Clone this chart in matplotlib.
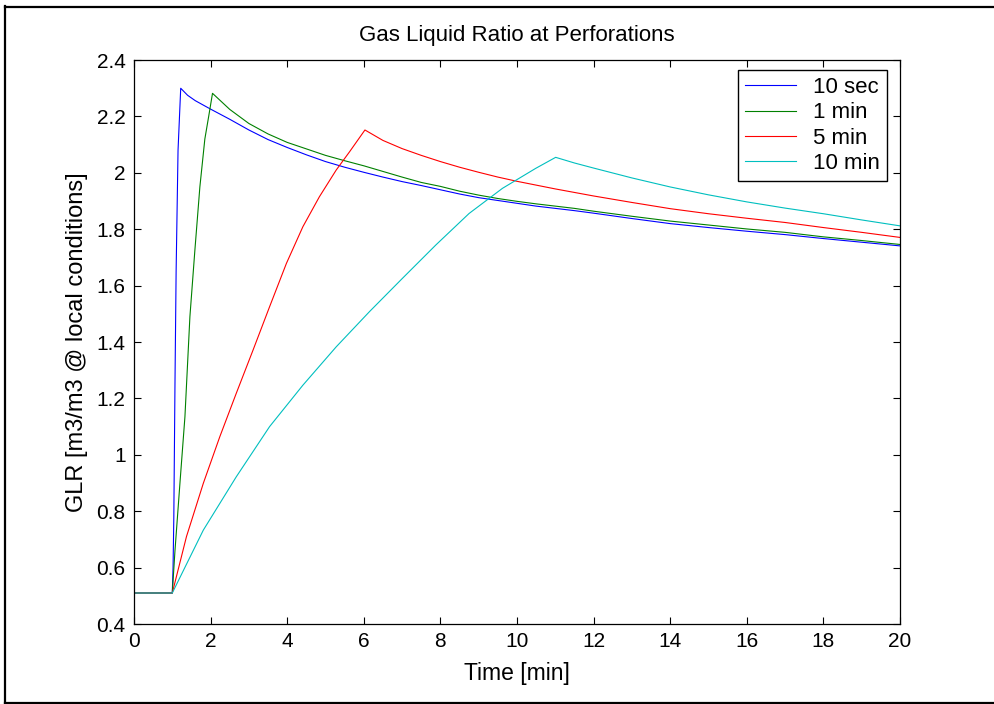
import matplotlib.pyplot as plt
from matplotlib.lines import Line2D

plt.rcParams['font.family'] = ['Liberation Sans', 'DejaVu Sans']

# GLR at the perforations for four ramp durations (time in minutes)
t_10s = [0, 1.0, 1.02, 1.04, 1.07, 1.10, 1.15, 1.22, 1.4, 1.6, 2.0, 2.5, 3.0, 3.5, 4.0, 4.5,
         5.0, 5.5, 6.0, 6.5, 7.0, 7.5, 8.0, 8.5, 9.0, 9.5, 10.0, 10.5, 11.0, 11.5, 12, 13, 14,
         15, 16, 17, 18, 19, 20]
glr_10s = [0.51, 0.51, 0.60, 0.78, 1.25, 1.65, 2.08, 2.30, 2.275, 2.256, 2.226, 2.19, 2.152,
           2.118, 2.09, 2.064, 2.04, 2.02, 2.002, 1.985, 1.969, 1.955, 1.940, 1.925, 1.912,
           1.902, 1.892, 1.882, 1.874, 1.866, 1.857, 1.838, 1.820, 1.806, 1.793, 1.781, 1.767,
           1.754, 1.741]

t_1m = [0, 1.0, 1.07, 1.20, 1.33, 1.46, 1.59, 1.72, 1.85, 1.95, 2.05, 2.5, 3.0, 3.5, 4.0, 4.5,
        5.0, 5.5, 6.0, 6.5, 7.0, 7.5, 8.0, 8.5, 9.0, 9.5, 10.0, 10.5, 11.0, 11.5, 12, 13, 14,
        15, 16, 17, 18, 19, 20]
glr_1m = [0.51, 0.51, 0.66, 0.90, 1.135, 1.49, 1.726, 1.95, 2.12, 2.20, 2.282, 2.225, 2.175,
          2.138, 2.108, 2.085, 2.062, 2.043, 2.025, 2.005, 1.985, 1.966, 1.952, 1.935, 1.921,
          1.909, 1.899, 1.890, 1.882, 1.874, 1.864, 1.846, 1.829, 1.815, 1.801, 1.789, 1.773,
          1.760, 1.746]

t_5m = [0, 1.0, 1.37, 1.81, 2.24, 2.67, 3.11, 3.54, 3.98, 4.41, 4.84, 5.28, 5.63, 6.03, 6.5,
        7.0, 7.5, 8.0, 8.5, 9.0, 9.5, 10.0, 11, 12, 13, 14, 15, 16, 17, 18, 19, 20]
glr_5m = [0.51, 0.51, 0.71, 0.899, 1.064, 1.218, 1.372, 1.525, 1.679, 1.809, 1.915, 2.01, 2.075,
          2.152, 2.115, 2.086, 2.062, 2.040, 2.020, 2.002, 1.985, 1.970, 1.943, 1.918, 1.895,
          1.873, 1.855, 1.839, 1.824, 1.806, 1.789, 1.771]

t_10m = [0, 1.0, 1.81, 2.67, 3.54, 4.41, 5.28, 6.15, 7.01, 7.88, 8.75, 9.62, 10.49, 11.01,
         11.5, 12, 13, 14, 15, 16, 17, 18, 19, 20]
glr_10m = [0.51, 0.51, 0.733, 0.922, 1.100, 1.247, 1.383, 1.508, 1.626, 1.744, 1.856, 1.945,
           2.016, 2.055, 2.035, 2.017, 1.982, 1.950, 1.922, 1.897, 1.875, 1.855, 1.833, 1.812]

labels = ['10 sec', '1 min', '5 min', '10 min']
colors = ['#0000ff', '#008000', '#ff0000', '#00bfbf']

fig = plt.figure(figsize=(9.94, 7.04), dpi=100)
ax = fig.add_axes([0.1348, 0.1136, 0.7706, 0.8011])

series = [(t_10s, glr_10s), (t_1m, glr_1m), (t_5m, glr_5m), (t_10m, glr_10m)]
for (t, g), lab, c in zip(series, labels, colors):
    ax.plot(t, g, color=c, lw=0.8, label=lab)

ax.set_xlim(0, 20)
ax.set_ylim(0.4, 2.4)
ax.set_xticks(range(0, 21, 2))
ax.set_yticks([0.4, 0.6, 0.8, 1.0, 1.2, 1.4, 1.6, 1.8, 2.0, 2.2, 2.4])
ax.set_yticklabels(['0.4', '0.6', '0.8', '1', '1.2', '1.4', '1.6', '1.8', '2', '2.2', '2.4'])
ax.tick_params(direction='in', top=True, right=True, length=5, width=0.8,
               labelsize=15, pad=6)
for s in ax.spines.values():
    s.set_linewidth(0.9)

ax.set_title('Gas Liquid Ratio at Perforations', fontsize=16, pad=14)
ax.set_xlabel('Time [min]', fontsize=16.5, labelpad=8)
ax.set_ylabel('GLR [m3/m3 @ local conditions]', fontsize=17, labelpad=6)

leg = ax.legend(loc='upper right', bbox_to_anchor=(0.983, 0.982), fontsize=16,
                fancybox=False, framealpha=1, edgecolor='black', borderaxespad=0,
                handlelength=2.3, handletextpad=0.8, labelspacing=0.2,
                borderpad=0.3)
leg.get_frame().set_linewidth(1.0)

# outer frame on left, top and bottom
W, H = 994, 704
for xs, ys in [([5, 5], [6, 703]), ([5, 994], [6.5, 6.5]), ([5, 994], [702.5, 702.5])]:
    fig.add_artist(Line2D([x / W for x in xs], [1 - y / H for y in ys],
                          color='black', lw=1.6, transform=fig.transFigure))

fig.savefig('out.png', dpi=100)
